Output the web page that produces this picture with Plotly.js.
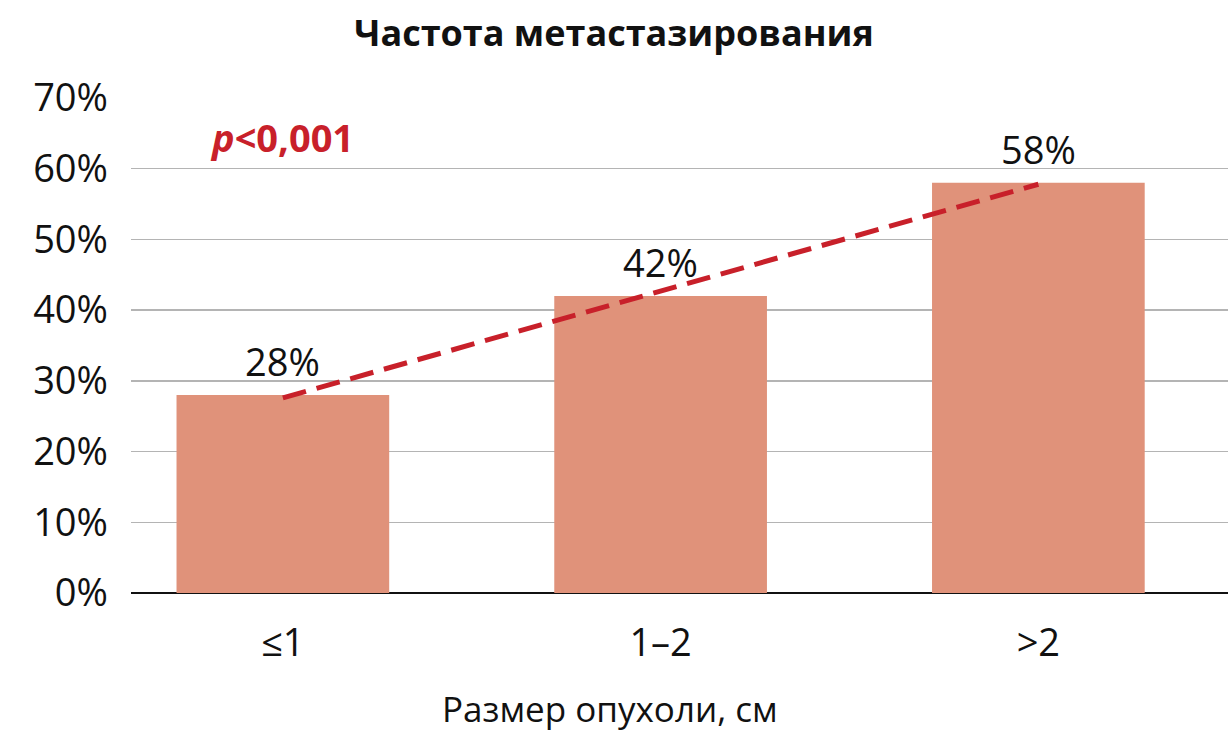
<!DOCTYPE html>
<html><head><meta charset="utf-8">
<script src="https://cdn.plot.ly/plotly-3.0.1.min.js"></script>
<style>html,body{margin:0;padding:0;background:#fff}</style>
</head><body>
<div id="chart" style="width:1228px;height:735px"></div>
<script>
const categories = ['≤1', '1–2', '>2'];
const values = [28, 42, 58];
const labels = ['28%', '42%', '58%'];
const trendValues = [27.6, 57.8];
const trendCats = [0, 2];
const yTickVals = [0, 10, 20, 30, 40, 50, 60, 70];
const yTickText = ['0%', '10%', '20%', '30%', '40%', '50%', '60%', '70%'];
const xTitle = 'Размер опухоли, см';

const FONT = 'Open Sans, Noto Sans, sans-serif';
const idx = categories.map((c, i) => i);
const PLOT_L = 131, PLOT_W = 1097, PLOT_B = 593.3, PLOT_H = 495.3;

const traces = [
  {
    type: 'bar', x: idx, y: values, width: 0.563,
    marker: {color: '#e0927a'},
    hoverinfo: 'skip'
  },
  {
    type: 'scatter', mode: 'lines', x: trendCats, y: trendValues,
    line: {color: '#c8202a', width: 5, dash: '24px,11px'},
    hoverinfo: 'skip'
  }
];

const annotations = idx.map(i => ({
  x: i, y: values[i], xref: 'x', yref: 'y', text: labels[i], showarrow: false,
  xanchor: 'center', yanchor: 'bottom', yshift: 6,
  font: {family: FONT, size: 38, color: '#111'}
}));
annotations.push({
  text: '<b><i>p</i>&lt;0,001</b>', xref: 'paper', yref: 'paper',
  x: (208 - PLOT_L) / PLOT_W, xanchor: 'left',
  y: (PLOT_B - 137) / PLOT_H, yanchor: 'middle', showarrow: false,
  font: {family: FONT, size: 38, color: '#c8202a'}
});
annotations.push({
  text: xTitle, xref: 'paper', yref: 'paper',
  x: (610 - PLOT_L) / PLOT_W, xanchor: 'center',
  y: (PLOT_B - 709) / PLOT_H, yanchor: 'middle', showarrow: false,
  font: {family: FONT, size: 35, color: '#111'}
});

const layout = {
  width: 1228, height: 735,
  margin: {l: PLOT_L, r: 0, t: 98, b: 141.7},
  paper_bgcolor: '#fff', plot_bgcolor: '#fff',
  showlegend: false,
  title: {text: '<b>Частота метастазирования</b>', x: 0.5, xref: 'container', xanchor: 'center',
          y: 0.955, yref: 'container', yanchor: 'middle',
          font: {family: FONT, size: 36, color: '#111'}},
  xaxis: {
    range: [-0.402, 2.502], tickmode: 'array', tickvals: idx, ticktext: categories,
    showgrid: false, zeroline: false, showline: false, ticks: '',
    tickfont: {family: FONT, size: 38, color: '#111'}, ticklabelstandoff: 24,
    fixedrange: true
  },
  yaxis: {
    range: [0, 70], tickmode: 'array', tickvals: yTickVals, ticktext: yTickText,
    showgrid: true, gridcolor: '#b4b4b4', gridwidth: 1.5,
    zeroline: true, zerolinecolor: '#111', zerolinewidth: 2.5,
    showline: false, ticks: '', ticklabelstandoff: 22,
    tickfont: {family: FONT, size: 38, color: '#111'},
    fixedrange: true
  },
  annotations: annotations
};

Plotly.newPlot('chart', traces, layout, {displayModeBar: false, staticPlot: true});
</script>
</body></html>
